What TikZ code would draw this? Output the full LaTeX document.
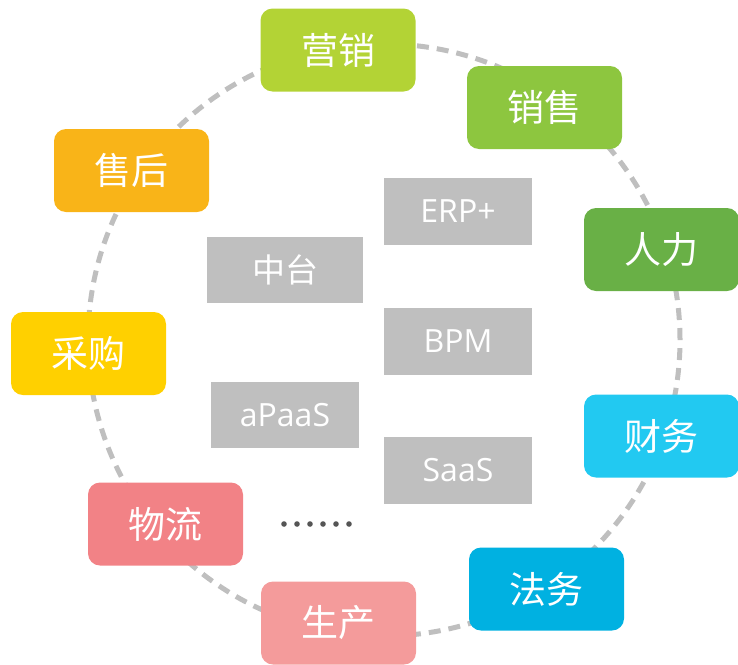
\documentclass[tikz,border=0pt]{standalone}
\usepackage{fontspec}
\setmainfont{Open Sans}
\newfontfamily\cjk{Noto Sans CJK SC}
\definecolor{ringgray}{HTML}{BFBFBF}
\definecolor{cYingxiao}{HTML}{B3D335}
\definecolor{cXiaoshou}{HTML}{8DC63F}
\definecolor{cRenli}{HTML}{69B046}
\definecolor{cCaiwu}{HTML}{22C9F1}
\definecolor{cFawu}{HTML}{00B1E1}
\definecolor{cShengchan}{HTML}{F49B9B}
\definecolor{cWuliu}{HTML}{F28286}
\definecolor{cCaigou}{HTML}{FFD000}
\definecolor{cShouhou}{HTML}{F9B418}
\definecolor{dotgray}{HTML}{555555}
\tikzset{
  dept/.style={rounded corners=12pt, minimum width=155pt, minimum height=83pt,
    inner sep=0pt, text=white, font=\cjk\fontsize{37}{42}\selectfont},
  tech/.style={fill=ringgray, minimum width=148pt, minimum height=67pt,
    inner sep=0pt, text=white, font=\fontsize{32}{36}\selectfont},
  techcjk/.style={tech, font=\cjk\fontsize{33}{38}\selectfont},
  ring/.style={draw=ringgray, line width=5pt, dash pattern=on 12pt off 8pt}
}
\begin{document}
\begin{tikzpicture}[x=1pt,y=-1pt]
\useasboundingbox (0,0) rectangle (738,664);
\clip (0,0) rectangle (738,664);
\coordinate (ctr) at (384,340);
\draw[ring] (ctr) circle[radius=296pt];
\node[dept, fill=cYingxiao] (yingxiao) at (338,50) {营销};
\node[dept, fill=cXiaoshou] (xiaoshou) at (544.5,107.5) {销售};
\node[dept, fill=cRenli] (renli) at (661.5,249.5) {人力};
\node[dept, fill=cCaiwu] (caiwu) at (661.5,436) {财务};
\node[dept, fill=cFawu] (fawu) at (546.5,589) {法务};
\node[dept, fill=cShengchan] (shengchan) at (338.5,623) {生产};
\node[dept, fill=cWuliu] (wuliu) at (165.5,524) {物流};
\node[dept, fill=cCaigou] (caigou) at (88.5,353.5) {采购};
\node[dept, fill=cShouhou] (shouhou) at (131.5,170.5) {售后};
\node[tech] (erp) at (458,211.5) {ERP+};
\node[tech] (bpm) at (458,341.5) {BPM};
\node[tech] (saas) at (458,470) {SaaS};
\node[techcjk, minimum width=156pt, minimum height=66pt] (zhongtai) at (285,270) {中台};
\node[tech, minimum height=66pt] (apaas) at (285,415) {aPaaS};
\foreach \i in {0,...,5}{
  \fill[dotgray] (284+\i*13,524) circle[radius=2.8pt];
}
\end{tikzpicture}
\end{document}
